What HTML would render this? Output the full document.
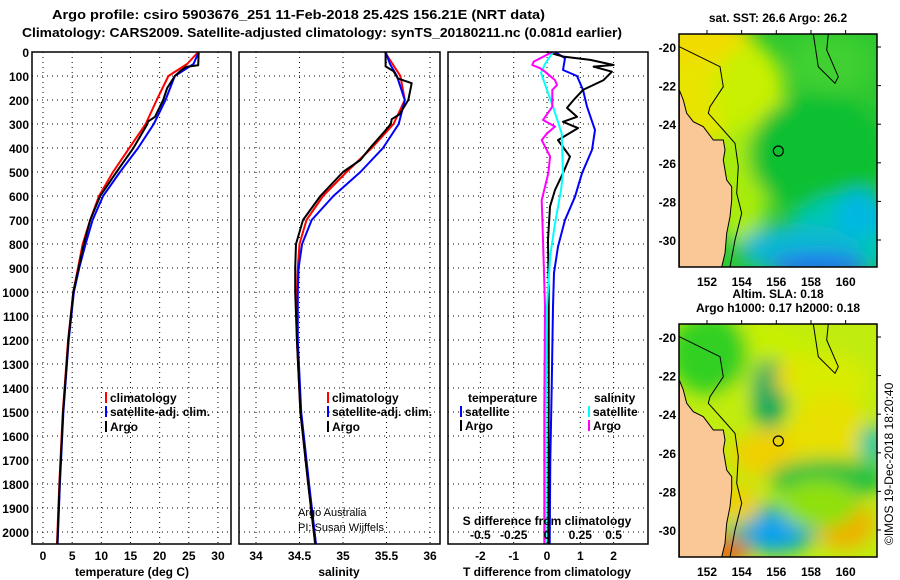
<!DOCTYPE html>
<html><head><meta charset="utf-8"><style>
body{margin:0;background:#fff;}
svg{display:block;font-family:"Liberation Sans",sans-serif;}
.t{font-weight:bold;font-size:12px;fill:#000;}
.g{stroke:#000;stroke-width:1;stroke-dasharray:1 4;fill:none;}
</style></head><body>
<svg id="chart" width="900" height="580" viewBox="0 0 900 580" xmlns="http://www.w3.org/2000/svg">
<defs>
<filter id="bl" x="-50%" y="-50%" width="200%" height="200%"><feGaussianBlur stdDeviation="9"/></filter>
<clipPath id="c1"><rect x="679" y="34" width="198" height="233"/></clipPath>
<clipPath id="c2"><rect x="679" y="324" width="198" height="233"/></clipPath>
</defs>
<text x="52" y="19" class="t" style="font-size:13px" textLength="493" lengthAdjust="spacingAndGlyphs">Argo profile: csiro 5903676_251 11-Feb-2018 25.42S 156.21E (NRT data)</text>
<text x="22" y="37" class="t" style="font-size:13px" textLength="600" lengthAdjust="spacingAndGlyphs">Climatology: CARS2009. Satellite-adjusted climatology: synTS_20180211.nc (0.081d earlier)</text>
<g id="panels"></g>
<g id="maps"></g>
</svg>
<script>
// ---- data ----
const depthsUpper=[0,50,100,200,300,400,500,600,700,800,900,1000,1200,1500,1800,2050];
const tempClim=[26.6,24.7,21.5,19.5,17.6,14.8,12.0,9.6,8.1,6.8,6.0,5.2,4.3,3.4,2.8,2.4];
const tempSat=[26.7,25.8,22.6,21.0,19.0,16.3,13.2,10.3,8.5,7.3,6.2,5.3,4.4,3.5,2.9,2.5];
const argoTDepths=[0,55,62,80,100,150,200,270,290,300,400,500,600,700,800,1000,1200,1500,1800,2050];
const tempArgo=[26.7,26.6,24.5,23.5,22.6,21.3,20.6,19.2,18.0,17.9,15.5,12.6,9.8,8.1,7.0,5.2,4.35,3.45,2.85,2.45];
const salClim=[35.48,35.57,35.66,35.71,35.58,35.33,35.04,34.77,34.58,34.50,34.48,34.47,34.47,34.51,34.60,34.68];
const salSat=[35.49,35.54,35.62,35.71,35.64,35.46,35.20,34.89,34.64,34.53,34.49,34.48,34.48,34.52,34.61,34.69];
const argoSDepths=[0,60,80,110,130,200,260,280,300,330,400,450,500,600,700,800,900,1000,1200,1500,1800,2050];
const salArgo=[35.49,35.49,35.58,35.63,35.79,35.75,35.65,35.56,35.55,35.48,35.31,35.20,35.00,34.74,34.54,34.46,34.45,34.45,34.47,34.51,34.60,34.68];
const dTDepths=[0,26,75,100,158,228,325,408,505,603,700,811,921,1061,1400,1700,2050];
const dTSat=[0.24,0.54,0.48,0.9,1.08,1.2,1.44,1.35,1.05,0.84,0.54,0.33,0.21,0.18,0.14,0.1,0.08];
const dTArgoDepths=[0,19,33,54,61,82,117,158,200,233,270,291,317,367,436,505,575,644,783,1000,1500,2050];
const dTArgo=[0,0.5,1.3,2.0,1.4,1.95,1.7,1.08,0.8,0.6,0.9,0.48,0.93,0.33,0.69,0.48,0.24,0.09,0.03,0.05,0.05,0.04];
const dSDepths=[0,50,88,158,228,339,505,575,714,853,1061,1500,2050];
const dSSat=[0.045,-0.015,-0.045,0,0.045,0.11,0.12,0.105,0.06,0.023,0,-0.01,-0.01];
const dSArgoDepths=[0,40,54,68,82,117,138,158,228,283,311,339,367,436,505,617,783,1061,1500,2050];
const dSArgo=[0.04,-0.1,-0.11,-0.05,-0.015,0.06,0.075,0.04,0.04,-0.03,0.06,0,-0.04,0.023,0.01,-0.04,-0.03,-0.015,-0.02,-0.02];
const depthTicks=[0,100,200,300,400,500,600,700,800,900,1000,1100,1200,1300,1400,1500,1600,1700,1800,1900,2000];
const tTicks=[0,5,10,15,20,25,30];
const sTicks=[34,34.5,35,35.5,36];
const dTicks=[-2,-1,0,1,2];
const sdTicks=[-0.5,-0.25,0,0.25,0.5];
const sdLabels=["-0.5","-0.25","0","0.25","0.5"];
// ---- axes ----
const TOP=52,BOT=544;
const yD=d=>TOP+d*0.24;
const xT=v=>43+v*5.833;
const xS=v=>256+(v-34)*87;
const xDT=v=>547+v*33.3;
const xDS=v=>547+v*133.2;
const NS="http://www.w3.org/2000/svg";
const P=document.getElementById('panels');
function el(tag,attrs,parent,txt){const e=document.createElementNS(NS,tag);for(const k in attrs)e.setAttribute(k,attrs[k]);if(txt!==undefined)e.textContent=txt;(parent||P).appendChild(e);return e;}
function line(xs,ds,xf,color,name,w){
  const pts=xs.map((v,i)=>xf(v).toFixed(1)+','+yD(ds[i]).toFixed(1)).join(' ');
  const e=el('polyline',{points:pts,fill:'none',stroke:color,'stroke-width':w||2,'stroke-linejoin':'round'});
  
  
}
function panel(x0,x1,ticks,xf,labels,name){
  const g=el('g',{});
  
  
  depthTicks.forEach(d=>{if(d>0)el('line',{x1:x0,x2:x1,y1:yD(d),y2:yD(d),class:'g'},g);});
  ticks.forEach((t,i)=>{const x=xf(t);el('line',{x1:x,x2:x,y1:TOP,y2:BOT,class:'g'},g);
    const tl=el('text',{x:x,y:560,class:'t','text-anchor':'middle'},g,labels?labels[i]:String(t));
    
    });
  return g;
}
const g1=panel(32,231,tTicks,xT,null,'temperature-panel');
const g2=panel(239,440,sTicks,xS,null,'salinity-panel');
const g3=panel(448,648,dTicks,xDT,null,'difference-panel');
depthTicks.forEach(d=>{const t=el('text',{x:29,y:yD(d)+5,class:'t','text-anchor':'end'},P,String(d));
  
  });
line(tempClim,depthsUpper,xT,'#f00','temp-climatology-line');
line(tempSat,depthsUpper,xT,'#00f','temp-satellite-line');
line(tempArgo,argoTDepths,xT,'#000','temp-argo-line');
line(salClim,depthsUpper,xS,'#f00','sal-climatology-line');
line(salSat,depthsUpper,xS,'#00f','sal-satellite-line');
line(salArgo,argoSDepths,xS,'#000','sal-argo-line');
line(dTSat,dTDepths,xDT,'#00f','tdiff-satellite-line');
line(dTArgo,dTArgoDepths,xDT,'#000','tdiff-argo-line');
line(dSSat,dSDepths,xDS,'#0ff','sdiff-satellite-line');
line(dSArgo,dSArgoDepths,xDS,'#f0f','sdiff-argo-line');
[[32,231],[239,440],[448,648]].forEach(([a,b])=>{const r=el('rect',{x:a,y:TOP,width:b-a,height:BOT-TOP,fill:'none',stroke:'#000','stroke-width':1.5});
  
  });
const sdt=el('text',{x:547,y:525,class:'t','text-anchor':'middle'},P,'S difference from climatology');


sdTicks.forEach((t,i)=>{const e=el('text',{x:xDS(t),y:539,class:'t','text-anchor':'middle'},P,sdLabels[i]);
  
  });
[[132,'temperature (deg C)'],[339,'salinity'],[547,'T difference from climatology']].forEach(([x,s])=>{const e=el('text',{x:x,y:576,class:'t','text-anchor':'middle'},P,s);
  
  });
function leg(x,y,c,s){const m=el('rect',{x:x,y:y-10,width:2,height:11,fill:c});
  
  
  const t=el('text',{x:x+5,y:y,class:'t'},P,s);
  
  }
leg(105,402,'#f00','climatology');leg(105,416,'#00f','satellite-adj. clim.');leg(105,431,'#000','Argo');
leg(327,402,'#f00','climatology');leg(327,416,'#00f','satellite-adj. clim.');leg(327,431,'#000','Argo');
const lt=el('text',{x:468,y:402,class:'t'},P,'temperature');


const ls=el('text',{x:594,y:402,class:'t'},P,'salinity');


leg(460,416,'#00f','satellite');leg(460,430,'#000','Argo');
leg(588,416,'#0ff','satellite');leg(588,430,'#f0f','Argo');
const a1=el('text',{x:298,y:516,'font-size':'11px'},P,'Argo Australia');


const a2=el('text',{x:298,y:531,'font-size':'11px'},P,'PI: Susan Wijffels');



// ---- maps ----
const M=document.getElementById('maps');
const lonTicks=[152,154,156,158,160];
const latTicks=[-20,-22,-24,-26,-28,-30];
const xL=l=>681+(l-150.5)*17.33;
const landPts=[[58,270],[70,300],[80,340],[100,365],[130,380],[160,420],[190,420],[195,450],[190,480],[200,540],[215,560],[215,600],[210,650],[200,700],[195,760],[185,801],[58,801]];
const contourPts=[[58,140],[180,200],[190,260],[150,320],[145,340],[190,390],[225,430],[235,500],[230,580],[245,640],[225,720],[210,801]];
const islandPts=[[460,102],[475,200],[525,250],[535,230],[500,150],[505,102]];
function mapPanel(y0,name,blobs,base,title){
  const g=el('g',{},M);
  
  
  const inner=el('g',{'clip-path':'url(#'+(y0<100?'c1':'c2')+')'},g);
  el('rect',{x:679,y:y0,width:198,height:233,fill:base},inner);
  const bg=el('g',{filter:'url(#bl)'},inner);
  blobs.forEach(b=>el('ellipse',{cx:679+b[0],cy:y0+b[1],rx:b[2],ry:b[3],fill:b[4]},bg));
  const tp=p=>p.map(q=>(660+q[0]/3).toFixed(1)+','+(y0-34+q[1]/3).toFixed(1)).join(' ');
  el('polygon',{points:tp(landPts),fill:'#f9c896',stroke:'#000','stroke-width':1},inner);
  el('polyline',{points:tp(contourPts),fill:'none',stroke:'#000','stroke-width':1},inner);
  el('polyline',{points:tp(islandPts),fill:'none',stroke:'#000','stroke-width':1},inner);
  const mk=el('circle',{cx:660+355/3,cy:y0-34+453/3,r:5,fill:'none',stroke:'#000','stroke-width':1.2},inner);
  
  
  el('rect',{x:679,y:y0,width:198,height:233,fill:'none',stroke:'#000','stroke-width':1.5},g);
  lonTicks.forEach(l=>{const t=el('text',{x:xL(l),y:y0+252,class:'t','text-anchor':'middle'},g,String(l));
    
    
    el('line',{x1:xL(l),x2:xL(l),y1:y0,y2:y0-4,stroke:'#000'},g);});
  latTicks.forEach(la=>{const y=y0+13+(-20-la)*19.3;
    const t=el('text',{x:676,y:y+5,class:'t','text-anchor':'end'},g,String(la));
    
    
    el('line',{x1:877,x2:881,y1:y,y2:y,stroke:'#000'},g);});
  title.forEach((s,i)=>{const t=el('text',{x:778,y:y0-12-(title.length-1-i)*14,class:'t','text-anchor':'middle'},g,s);
    
    });
}
mapPanel(34,'sst-map',[
 [20,20,60,40,'#f2dc00'],[20,70,45,45,'#e8e400'],[70,60,35,50,'#c8f000'],[60,150,30,60,'#a8ec10'],
 [140,120,70,60,'#10c030'],[170,200,60,40,'#00c8b0'],[120,215,60,25,'#10b8d0'],[140,232,50,12,'#2070f0'],
 [180,180,25,25,'#00b8e0'],[150,30,40,30,'#40d030']
],'#30c830',['sat. SST: 26.6 Argo: 26.2']);
mapPanel(324,'sla-map',[
 [80,40,60,40,'#c8f000'],[30,30,40,40,'#30d020'],[90,70,18,35,'#10a860'],[120,55,25,20,'#f0d800'],
 [150,60,40,30,'#d8ec00'],[100,130,50,25,'#f0d000'],[150,110,40,40,'#e8e000'],[150,155,60,20,'#20c040'],
 [195,120,15,20,'#10c8a0'],[95,205,45,25,'#10b0b0'],[95,208,25,15,'#10a0f0'],[45,228,25,15,'#e07000'],
 [165,200,30,25,'#f0b000'],[60,180,20,20,'#f0d000'],[140,180,40,25,'#90e010']
],'#c0ec10',['Altim. SLA: 0.18','Argo h1000: 0.17 h2000: 0.18']);
const cp=el('text',{x:0,y:0,transform:'translate(893,545) rotate(-90)',style:'font-size:12px;font-weight:normal'},M,'©IMOS 19-Dec-2018 18:20:40');


</script>
</body></html>
